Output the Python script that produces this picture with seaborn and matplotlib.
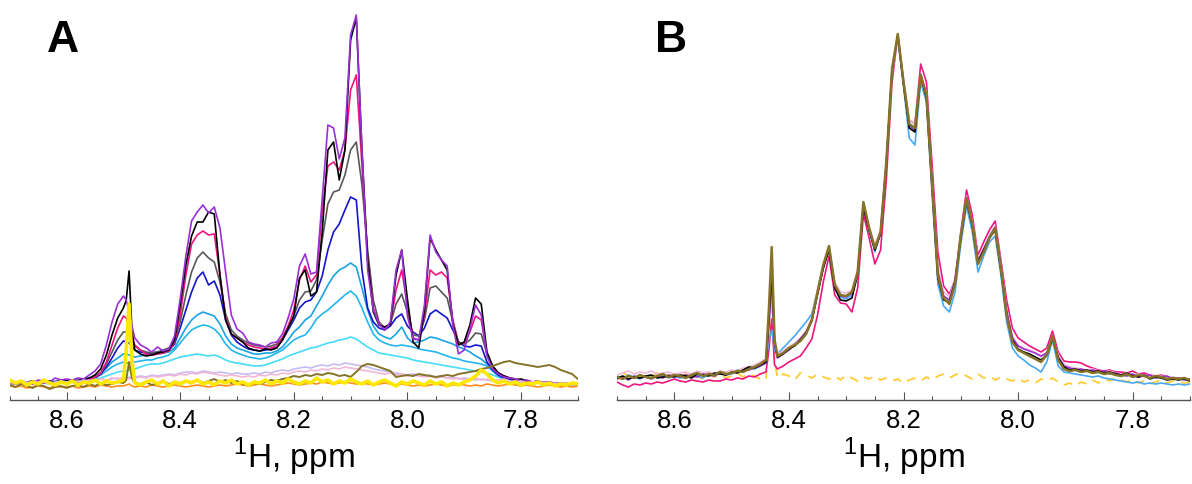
import numpy as np
import pandas as pd
import matplotlib
matplotlib.use("Agg")
import matplotlib.pyplot as plt
from matplotlib.ticker import MultipleLocator, FormatStrFormatter
import seaborn as sns

# chemical shift grids (ppm); a few extra points around the sharp line
ppm_a = np.round(np.concatenate([np.arange(8.70, 8.495, -0.01), [8.495, 8.49, 8.485],
                                 np.arange(8.48, 7.695, -0.01)]), 3)
ppm_b = np.round(np.concatenate([np.arange(8.70, 8.435, -0.01), [8.435, 8.43, 8.425],
                                 np.arange(8.42, 7.695, -0.01)]), 3)

# ---- panel A intensities (arbitrary units) ----
purple_a = [18, 17, 19, 18, 17, 20, 19, 18, 22, 20,
            21, 20, 22, 21, 25, 29, 36, 55, 78, 96,
            104, 100, 88, 74,
            62, 55, 52, 48, 53, 49, 51, 64, 101, 144,
            179, 188, 195, 187, 193, 172, 128, 85, 71, 67,
            58, 56, 55, 53, 57, 58, 66, 82, 101, 134,
            146, 126, 128, 201, 275, 272, 241, 262, 365, 385,
            250, 130, 90, 76, 70, 78, 130, 150, 84, 61,
            60, 95, 165, 148, 140, 134, 75, 46, 50, 71,
            95, 85, 44, 31, 26, 23, 22, 21, 19, 20,
            18, 19, 17, 18, 16, 17, 15, 16, 14]
black_a = [17, 18, 16, 18, 19, 17, 18, 19, 18, 20,
           19, 20, 19, 21, 22, 25, 31, 45, 65, 82,
           92, 100, 129, 70,
           50, 46, 44, 45, 47, 48, 50, 60, 95, 135,
           164, 178, 178, 188, 186, 125, 80, 66, 62, 58,
           52, 50, 49, 51, 50, 52, 60, 72, 84, 122,
           130, 104, 108, 168, 250, 258, 220, 250, 360, 382,
           250, 140, 88, 75, 73, 76, 125, 150, 101, 58,
           52, 90, 162, 150, 140, 130, 76, 55, 58, 75,
           102, 96, 48, 34, 27, 24, 22, 20, 21, 19,
           18, 17, 18, 16, 17, 16, 15, 16, 15]
magenta_a = [17, 16, 18, 17, 16, 18, 17, 19, 18, 19,
             18, 19, 18, 20, 21, 23, 27, 38, 55, 72,
             84, 82, 76, 64,
             55, 50, 46, 45, 46, 47, 49, 58, 85, 125,
             156, 165, 169, 165, 166, 125, 82, 66, 62, 58,
             55, 53, 52, 51, 52, 54, 62, 74, 90, 120,
             134, 118, 125, 190, 234, 238, 230, 250, 310, 325,
             235, 140, 92, 76, 72, 76, 110, 130, 95, 62,
             60, 85, 130, 125, 128, 122, 80, 56, 57, 68,
             84, 80, 46, 33, 27, 24, 22, 21, 20, 19,
             18, 19, 17, 18, 17, 16, 17, 15, 16]
gray_a = [18, 17, 19, 17, 18, 17, 19, 18, 17, 19,
          19, 18, 20, 19, 21, 23, 27, 36, 48, 60,
          68, 68, 66, 60,
          54, 50, 48, 47, 48, 50, 52, 58, 78, 105,
          128, 142, 148, 142, 138, 118, 86, 70, 64, 60,
          57, 55, 54, 53, 54, 56, 62, 72, 84, 100,
          108, 109, 120, 160, 196, 208, 210, 225, 250, 258,
          215, 150, 100, 78, 72, 76, 96, 106, 88, 65,
          64, 80, 112, 114, 108, 102, 78, 58, 56, 60,
          67, 66, 46, 34, 27, 24, 22, 21, 20, 19,
          18, 17, 18, 17, 16, 17, 16, 15, 16]
blue_a = [18, 17, 18, 16, 18, 17, 19, 17, 18, 18,
          18, 19, 18, 20, 21, 22, 26, 33, 42, 52,
          59, 58, 57, 54,
          50, 48, 47, 47, 48, 49, 50, 56, 72, 90,
          108, 122, 128, 115, 119, 105, 80, 65, 58, 54,
          51, 50, 49, 50, 51, 53, 60, 70, 80, 92,
          98, 100, 108, 124, 150, 168, 176, 190, 203, 200,
          130, 92, 78, 72, 70, 74, 82, 86, 74, 68,
          64, 72, 86, 90, 86, 82, 70, 58, 54, 53,
          55, 54, 38, 30, 25, 22, 21, 20, 19, 18,
          18, 17, 16, 17, 16, 17, 15, 16, 15]
sky1_a = [17, 18, 16, 17, 18, 16, 18, 17, 19, 18,
          19, 18, 20, 21, 22, 24, 27, 32, 38, 42,
          46, 46, 45, 44,
          43, 44, 45, 45, 46, 47, 48, 52, 62, 72,
          80, 85, 88, 86, 84, 76, 64, 56, 52, 50,
          48, 46, 46, 47, 47, 49, 53, 60, 68, 73,
          80, 84, 94, 104, 115, 124, 130, 133, 137, 133,
          112, 90, 74, 66, 63, 61, 66, 73, 62, 57,
          58, 60, 63, 62, 60, 58, 56, 53, 51, 48,
          44, 41, 36, 31, 26, 22, 21, 20, 19, 18,
          18, 17, 17, 16, 17, 16, 15, 16, 15]
sky2_a = [17, 16, 18, 17, 16, 18, 17, 16, 18, 17,
          18, 19, 18, 20, 21, 23, 25, 29, 33, 36,
          38, 37, 37, 38,
          38, 39, 40, 40, 42, 43, 45, 50, 57, 64,
          70, 73, 75, 74, 71, 65, 56, 50, 47, 45,
          43, 42, 41, 42, 44, 47, 50, 55, 60, 63,
          65, 72, 81, 86, 90, 95, 100, 105, 109, 104,
          92, 78, 66, 60, 57, 55, 54, 55, 54, 53,
          51, 50, 49, 48, 46, 44, 42, 41, 39, 38,
          37, 36, 34, 29, 24, 21, 20, 19, 18, 18,
          17, 18, 16, 17, 16, 15, 16, 15, 15]
cyan_a = [16, 17, 16, 18, 17, 16, 17, 18, 16, 17,
          17, 18, 19, 18, 20, 21, 22, 24, 26, 28,
          29, 29, 30, 30,
          31, 33, 35, 36, 36, 37, 39, 41, 43, 44,
          45, 46, 45, 44, 45, 43, 40, 38, 37, 36,
          35, 34, 34, 35, 37, 39, 41, 44, 46, 48,
          50, 52, 53, 55, 57, 58, 60, 61, 63, 61,
          57, 53, 50, 47, 46, 45, 44, 43, 42, 40,
          39, 38, 37, 36, 35, 34, 33, 32, 31, 30,
          29, 28, 27, 25, 23, 21, 20, 19, 18, 18,
          17, 17, 16, 16, 15, 16, 15, 15, 14]
lavender_a = [18, 17, 19, 18, 17, 18, 19, 17, 18, 19,
              18, 19, 18, 20, 19, 20, 21, 20, 22, 21,
              22, 22, 23, 22,
              23, 24, 23, 25, 24, 25, 26, 25, 27, 28,
              28, 27, 29, 28, 27, 28, 27, 26, 27, 26,
              26, 27, 26, 28, 27, 29, 30, 29, 31, 32,
              33, 32, 34, 35, 34, 36, 35, 37, 36, 35,
              34, 33, 31, 30, 29, 28, 27, 26, 25, 26,
              25, 24, 25, 23, 24, 22, 23, 21, 22, 21,
              20, 21, 20, 19, 20, 19, 18, 19, 18, 17,
              18, 17, 16, 17, 16, 17, 16, 15, 16]
pink_a = [17, 18, 17, 16, 18, 17, 18, 16, 17, 18,
          17, 18, 19, 18, 20, 19, 21, 20, 21, 22,
          21, 22, 21, 22,
          22, 23, 22, 24, 23, 24, 25, 24, 26, 25,
          27, 26, 28, 27, 26, 25, 24, 25, 24, 23,
          24, 23, 25, 24, 26, 25, 27, 26, 28, 29,
          28, 30, 29, 31, 30, 32, 31, 33, 32, 31,
          30, 29, 28, 27, 26, 27, 25, 26, 24, 25,
          24, 23, 24, 22, 23, 22, 21, 22, 20, 21,
          22, 20, 21, 19, 20, 21, 19, 18, 19, 17,
          18, 17, 18, 16, 17, 16, 17, 15, 16]
olive_a = [15, 13, 16, 14, 12, 15, 14, 11, 13, 14,
           12, 14, 15, 13, 16, 14, 17, 15, 16, 18,
           17, 20, 38, 22,
           17, 16, 18, 15, 17, 19, 16, 18, 17, 19,
           18, 20, 17, 19, 21, 18, 20, 17, 19, 16,
           15, 17, 16, 18, 20, 19, 21, 22, 24, 23,
           25, 24, 26, 25, 27, 26, 24, 25, 23, 28,
           34, 36, 35, 33, 31, 29, 23, 24, 25, 24,
           26, 25, 24, 23, 24, 25, 24, 26, 27, 28,
           29, 31, 32, 34, 36, 38, 39, 37, 36, 35,
           34, 33, 34, 35, 33, 30, 28, 26, 21]
orange_a = [14, 13, 14, 12, 13, 14, 13, 12, 14, 13,
            13, 14, 12, 13, 14, 13, 15, 14, 13, 14,
            14, 15, 16, 14,
            13, 14, 13, 15, 14, 13, 14, 15, 14, 13,
            14, 15, 14, 13, 14, 15, 14, 15, 16, 15,
            14, 15, 16, 15, 14, 15, 16, 17, 16, 15,
            16, 17, 16, 18, 17, 16, 17, 18, 17, 16,
            17, 16, 15, 16, 17, 16, 15, 16, 15, 14,
            15, 14, 15, 16, 15, 14, 15, 16, 15, 14,
            15, 14, 16, 15, 14, 15, 16, 15, 14, 15,
            14, 13, 14, 15, 14, 13, 14, 13, 14]
yellow_a = [20, 17, 19, 15, 18, 16, 20, 17, 15, 18,
            16, 19, 15, 18, 17, 20, 16, 19, 17, 18,
            20, 50, 96, 40,
            17, 15, 18, 20, 16, 19, 14, 18, 16, 19,
            17, 20, 16, 18, 15, 19, 17, 20, 16, 18,
            15, 18, 17, 20, 16, 19, 17, 21, 18, 16,
            19, 17, 22, 18, 20, 16, 19, 17, 21, 18,
            16, 19, 15, 18, 20, 17, 14, 18, 16, 19,
            17, 15, 19, 16, 18, 14, 17, 15, 18, 20,
            24, 30, 26, 20, 17, 19, 16, 18, 15, 17,
            16, 18, 15, 17, 14, 16, 15, 17, 16]

# ---- panel B intensities ----
olive_b = [23, 21, 24, 22, 25, 23, 22, 24, 26, 23,
           25, 24, 22, 25, 27, 24, 26, 25, 28, 26,
           27, 29, 28, 31, 33, 36, 40,
           90, 153, 60,
           44, 47, 52, 55, 59, 66, 80, 108, 135, 154,
           115, 105, 104, 108, 128, 198, 172, 152, 168, 238,
           331, 366, 318, 276, 272, 325, 305, 214, 125, 102,
           96, 116, 164, 202, 176, 136, 148, 162, 172, 131,
           85, 58, 50, 47, 44, 41, 38, 45, 64, 40,
           31, 29, 30, 28, 29, 27, 28, 26, 27, 25,
           24, 26, 23, 25, 24, 22, 24, 23, 21, 22,
           21, 22, 20]
black_b = [22, 24, 21, 23, 22, 24, 25, 22, 23, 24,
           23, 25, 24, 22, 26, 25, 24, 27, 26, 25,
           28, 27, 30, 33, 32, 35, 38,
           80, 130, 58,
           43, 46, 51, 54, 60, 67, 79, 106, 132, 150,
           112, 100, 99, 102, 126, 192, 170, 150, 166, 236,
           330, 365, 316, 272, 268, 324, 302, 212, 122, 100,
           98, 118, 162, 200, 174, 138, 150, 162, 170, 130,
           86, 60, 51, 48, 46, 43, 40, 45, 62, 42,
           33, 30, 31, 29, 30, 28, 29, 27, 28, 26,
           25, 27, 24, 23, 25, 21, 23, 22, 20, 21,
           20, 21, 19]
purple_b = [21, 23, 20, 24, 22, 23, 21, 24, 22, 25,
            24, 23, 25, 24, 23, 26, 25, 24, 27, 25,
            27, 28, 29, 30, 32, 34, 37,
            75, 118, 55,
            42, 46, 50, 55, 61, 68, 80, 106, 132, 152,
            114, 104, 103, 107, 127, 195, 171, 151, 167, 237,
            329, 364, 317, 274, 270, 326, 304, 216, 128, 104,
            100, 120, 165, 203, 176, 139, 151, 163, 173, 135,
            89, 62, 54, 51, 49, 47, 44, 47, 63, 43,
            34, 32, 30, 31, 29, 30, 28, 29, 26, 27,
            25, 24, 26, 23, 24, 25, 22, 23, 24, 21,
            22, 20, 21]
pink_b = [25, 27, 29, 26, 28, 27, 29, 26, 27, 28,
          26, 27, 28, 26, 29, 27, 28, 26, 29, 28,
          30, 29, 32, 33, 35, 38, 41,
          70, 105, 62,
          46, 49, 53, 57, 62, 69, 82, 110, 136, 152,
          118, 108, 107, 110, 130, 196, 174, 155, 170, 238,
          328, 363, 320, 280, 276, 326, 307, 220, 132, 108,
          103, 121, 166, 204, 178, 142, 152, 165, 174, 136,
          91, 64, 55, 52, 50, 47, 43, 48, 63, 45,
          36, 33, 32, 31, 30, 31, 29, 28, 29, 27,
          26, 27, 25, 26, 24, 25, 23, 24, 22, 23,
          22, 21, 20]
blue_b = [24, 22, 25, 23, 21, 24, 22, 23, 25, 22,
          24, 22, 23, 25, 24, 22, 26, 24, 27, 25,
          26, 30, 28, 32, 31, 34, 37,
          60, 70, 50,
          46, 52, 58, 64, 71, 78, 86, 110, 134, 154,
          113, 103, 101, 105, 125, 196, 170, 148, 168, 236,
          326, 363, 314, 262, 255, 318, 298, 206, 116, 94,
          88, 108, 156, 194, 168, 128, 144, 158, 164, 125,
          78, 52, 44, 40, 35, 32, 28, 38, 60, 34,
          28, 27, 26, 25, 24, 23, 24, 22, 21, 20,
          19, 18, 17, 18, 16, 17, 16, 17, 16, 15,
          16, 15, 16]
magenta_b = [18, 15, 13, 16, 15, 17, 16, 18, 17, 19,
             21, 19, 18, 20, 19, 18, 20, 19, 19, 21,
             20, 22, 21, 24, 23, 26, 28,
             50, 81, 35,
             31, 34, 38, 41, 44, 52, 61, 85, 118, 144,
             105, 97, 96, 88, 112, 186, 162, 136, 150, 220,
             318, 365, 320, 280, 276, 336, 318, 235, 148, 114,
             106, 120, 168, 210, 185, 145, 158, 170, 179, 140,
             100, 72, 62, 58, 54, 51, 48, 52, 69, 48,
             39, 38, 38, 37, 34, 32, 30, 29, 30, 28,
             28, 27, 29, 26, 27, 25, 24, 25, 23, 22,
             22, 21, 21]
yellow_b = [29, 27, 24, 26, 22, 25, 23, 27, 24, 22,
            25, 23, 26, 22, 24, 21, 25, 23, 26, 22,
            24, 27, 23, 26, 24, 21, 20,
            60, 100, 40,
            22, 26, 24, 20, 27, 25, 22, 26, 23, 21,
            24, 20, 25, 22, 19, 23, 21, 24, 20, 22,
            19, 21, 17, 20, 22, 19, 23, 20, 24, 26,
            22, 25, 27, 24, 21, 26, 22, 24, 20, 23,
            21, 19, 22, 18, 20, 17, 21, 19, 22, 18,
            15, 17, 14, 18, 16, 20, 17, 21, 19, 22,
            20, 18, 21, 17, 19, 16, 18, 20, 17, 19,
            18, 17, 18]

# (values, colour, linewidth, dashed) in drawing order
traces_a = [
    (cyan_a, "#45dcf7", 1.2, False),
    (sky2_a, "#22b6ee", 1.2, False),
    (sky1_a, "#1aa3e3", 1.2, False),
    (blue_a, "#1515cc", 1.2, False),
    (gray_a, "#585858", 1.2, False),
    (magenta_a, "#f0157f", 1.2, False),
    (black_a, "#000000", 1.2, False),
    (purple_a, "#9a2fd6", 1.2, False),
    (lavender_a, "#c8baf2", 1.2, False),
    (pink_a, "#f2b8d6", 1.2, False),
    (orange_a, "#ff8c1f", 1.2, False),
    (olive_a, "#857427", 1.4, False),
    (yellow_a, "#ffe800", 2.6, False),
]
traces_b = [
    (yellow_b, "#ffcc33", 1.3, True),
    (magenta_b, "#f0157f", 1.2, False),
    (blue_b, "#4aa8f2", 1.2, False),
    (pink_b, "#f2b8d8", 1.2, False),
    (purple_b, "#9a2fd6", 1.2, False),
    (black_b, "#000000", 1.2, False),
    (olive_b, "#857427", 1.8, False),
]

sns.set_style("white")
plt.rcParams["font.family"] = ["Liberation Sans", "DejaVu Sans"]
plt.rcParams["mathtext.fontset"] = "custom"
plt.rcParams["mathtext.rm"] = "Liberation Sans"
plt.rcParams["text.color"] = "black"
plt.rcParams["axes.labelcolor"] = "black"
plt.rcParams["xtick.bottom"] = True

W, H = 1192, 485
fig = plt.figure(figsize=(W / 100, H / 100), dpi=100)
ax_a = fig.add_axes([9.8 / W, 84 / H, 568 / W, 401 / H])
ax_b = fig.add_axes([617 / W, 84 / H, 573 / W, 401 / H])


def draw_panel(ax, ppm, traces, letter):
    for vals, color, lw, dashed in traces:
        df = pd.DataFrame({"ppm": ppm, "intensity": vals})
        sns.lineplot(data=df, x="ppm", y="intensity", color=color, lw=lw,
                     estimator=None, ax=ax, solid_joinstyle="round")
        if dashed:
            ax.lines[-1].set_dashes((5, 4))
    ax.set_xlim(8.70, 7.70)
    ax.set_ylim(0, 401)
    ax.set_yticks([])
    ax.set_ylabel("")
    for s in ("left", "top", "right"):
        ax.spines[s].set_visible(False)
    ax.spines["bottom"].set_color("#555555")
    ax.spines["bottom"].set_linewidth(1.0)
    ax.xaxis.set_major_locator(MultipleLocator(0.2))
    ax.xaxis.set_minor_locator(MultipleLocator(0.05))
    ax.xaxis.set_major_formatter(FormatStrFormatter("%.1f"))
    ax.tick_params(axis="x", which="major", direction="in", length=5.8, width=0.8,
                   color="#555555", labelcolor="black", labelsize=18.5, pad=6,
                   bottom=True)
    ax.tick_params(axis="x", which="minor", direction="in", length=2.9, width=0.8,
                   color="#555555", bottom=True)
    ax.set_xlabel("$^{1}$H, ppm", fontsize=24, labelpad=2, color="black")
    ax.text(37.5 / 568, 1 - 52 / 401, letter, transform=ax.transAxes, color="black",
            fontsize=32, fontweight="bold", va="baseline", ha="left")


draw_panel(ax_a, ppm_a, traces_a, "A")
draw_panel(ax_b, ppm_b, traces_b, "B")

fig.savefig("out.png", dpi=100)
